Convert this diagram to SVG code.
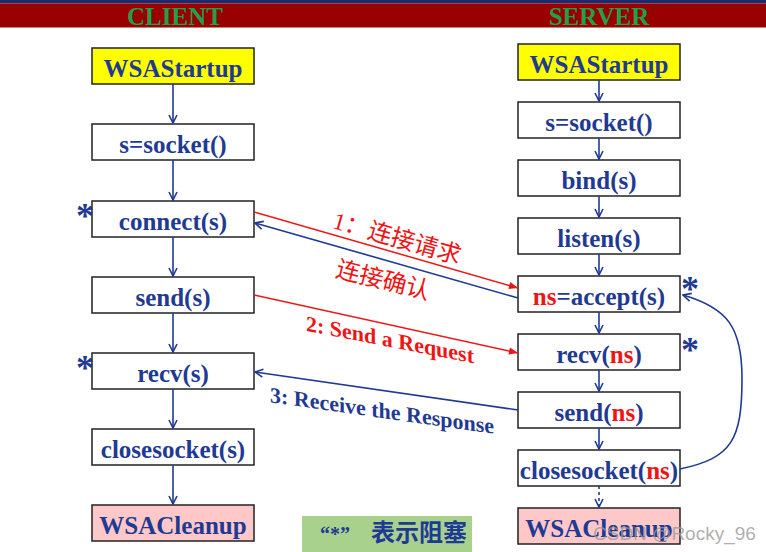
<svg xmlns="http://www.w3.org/2000/svg" width="766" height="552" viewBox="0 0 766 552">
<style>
.box{fill:#ffffff;stroke:#222222;stroke-width:1.5}
.start{fill:#ffff00;stroke:#222222;stroke-width:1.5}
.clean{fill:#ffc8c8;stroke:#222222;stroke-width:1.5}
.t{font-family:"Liberation Serif","Times New Roman",serif;font-weight:bold;font-size:25px;fill:#1f3a93;text-anchor:middle}
.r{fill:#f01414}
.hdr{font-family:"Liberation Serif","Times New Roman",serif;font-weight:bold;font-size:25px;fill:#20a04c;text-anchor:middle}
.ast{font-family:"Liberation Serif","Times New Roman",serif;font-weight:bold;font-size:36px;fill:#1f3a93;text-anchor:middle}
.lb{stroke:#1f3a93;stroke-width:1.6;fill:none}
.lr{stroke:#f01414;stroke-width:1.5;fill:none}
.cjk{font-family:"Liberation Serif","Noto Sans CJK SC",serif;font-size:24px;fill:#f01414;text-anchor:middle}
.lab{font-family:"Liberation Serif","Times New Roman",serif;font-weight:bold;font-style:normal;font-size:22px;text-anchor:middle}
</style>
<defs>
<marker id="ab" viewBox="0 0 10 10" refX="9" refY="5" markerWidth="10" markerHeight="10" markerUnits="userSpaceOnUse" orient="auto">
<path d="M1,1 L9,5 L1,9" fill="none" stroke="#1f3a93" stroke-width="1.6"/>
</marker>
<marker id="ar" viewBox="0 0 10 10" refX="10" refY="5" markerWidth="10" markerHeight="9" markerUnits="userSpaceOnUse" orient="auto">
<path d="M0,1 L10,5 L0,9 z" fill="#f01414"/>
</marker>
</defs>
<rect x="0" y="0" width="766" height="552" fill="#ffffff"/>
<rect x="0" y="0" width="766" height="3.5" fill="#1f2a6e"/>
<rect x="0" y="3.5" width="766" height="24" fill="#990000"/>
<text class="hdr" x="175" y="25">CLIENT</text>
<text class="hdr" x="599" y="25">SERVER</text>

<g id="c-startup"><rect class="start" x="92" y="48" width="162" height="36"/><text class="t" x="173" y="77">WSAStartup</text></g>
<g id="c-socket"><rect class="box" x="92" y="124" width="162" height="36"/><text class="t" x="173" y="153">s=socket()</text></g>
<g id="c-connect"><rect class="box" x="92" y="201" width="162" height="36"/><text class="t" x="173" y="230">connect(s)</text></g>
<g id="c-send"><rect class="box" x="92" y="277" width="162" height="36"/><text class="t" x="173" y="306">send(s)</text></g>
<g id="c-recv"><rect class="box" x="92" y="353" width="162" height="36"/><text class="t" x="173" y="382">recv(s)</text></g>
<g id="c-close"><rect class="box" x="92" y="429" width="162" height="36"/><text class="t" x="173" y="458">closesocket(s)</text></g>
<g id="c-cleanup"><rect class="clean" x="92" y="505" width="162" height="36"/><text class="t" x="173" y="534">WSACleanup</text></g>

<g id="s-startup"><rect class="start" x="518" y="44" width="162" height="36"/><text class="t" x="599" y="73">WSAStartup</text></g>
<g id="s-socket"><rect class="box" x="518" y="102" width="162" height="36"/><text class="t" x="599" y="131">s=socket()</text></g>
<g id="s-bind"><rect class="box" x="518" y="160" width="162" height="36"/><text class="t" x="599" y="189">bind(s)</text></g>
<g id="s-listen"><rect class="box" x="518" y="218" width="162" height="36"/><text class="t" x="599" y="247">listen(s)</text></g>
<g id="s-accept"><rect class="box" x="518" y="276" width="162" height="36"/><text class="t" x="599" y="305"><tspan class="r">ns</tspan>=accept(s)</text></g>
<g id="s-recv"><rect class="box" x="518" y="334" width="162" height="36"/><text class="t" x="599" y="363">recv(<tspan class="r">ns</tspan>)</text></g>
<g id="s-send"><rect class="box" x="518" y="392" width="162" height="36"/><text class="t" x="599" y="421">send(<tspan class="r">ns</tspan>)</text></g>
<g id="s-close"><rect class="box" x="518" y="450" width="162" height="36"/><text class="t" x="599" y="479">closesocket(<tspan class="r">ns</tspan>)</text></g>
<g id="s-cleanup"><rect class="clean" x="518" y="508" width="162" height="36"/><text class="t" x="599" y="537">WSACleanup</text></g>

<g id="asterisks">
<text class="ast" x="85" y="228">*</text>
<text class="ast" x="85" y="380">*</text>
<text class="ast" x="690" y="301">*</text>
<text class="ast" x="690" y="362">*</text>
</g>

<g id="connectors">
<line class="lb" x1="173" y1="84" x2="173" y2="123" marker-end="url(#ab)"/>
<line class="lb" x1="173" y1="160" x2="173" y2="200" marker-end="url(#ab)"/>
<line class="lb" x1="173" y1="237" x2="173" y2="276" marker-end="url(#ab)"/>
<line class="lb" x1="173" y1="313" x2="173" y2="352" marker-end="url(#ab)"/>
<line class="lb" x1="173" y1="389" x2="173" y2="428" marker-end="url(#ab)"/>
<line class="lb" x1="173" y1="465" x2="173" y2="504" marker-end="url(#ab)"/>
<line class="lb" x1="599" y1="80" x2="599" y2="101" marker-end="url(#ab)"/>
<line class="lb" x1="599" y1="138" x2="599" y2="159" marker-end="url(#ab)"/>
<line class="lb" x1="599" y1="196" x2="599" y2="217" marker-end="url(#ab)"/>
<line class="lb" x1="599" y1="254" x2="599" y2="275" marker-end="url(#ab)"/>
<line class="lb" x1="599" y1="312" x2="599" y2="333" marker-end="url(#ab)"/>
<line class="lb" x1="599" y1="370" x2="599" y2="391" marker-end="url(#ab)"/>
<line class="lb" x1="599" y1="428" x2="599" y2="449" marker-end="url(#ab)"/>
<line class="lb" x1="599" y1="486" x2="599" y2="507" stroke-dasharray="3,3" marker-end="url(#ab)"/>
<path class="lb" d="M680,469 C732,458 742,440 742,378 C742,328 728,308 683,295" marker-end="url(#ab)"/>
<line class="lr" x1="254" y1="212" x2="518" y2="288" marker-end="url(#ar)"/>
<line class="lb" x1="518" y1="298" x2="255" y2="223" marker-end="url(#ab)"/>
<line class="lr" x1="254" y1="295" x2="518" y2="353" marker-end="url(#ar)"/>
<line class="lb" x1="518" y1="410" x2="255" y2="372" marker-end="url(#ab)"/>
</g>

<g id="labels">
<text class="cjk" transform="translate(395,246) rotate(16)">1：连接请求</text>
<text class="cjk" transform="translate(381,288) rotate(14)">连接确认</text>
<text class="lab" fill="#f01414" transform="translate(390,347) skewY(11)">2: Send a Request</text>
<text class="lab" fill="#1f3a93" transform="translate(382,418) skewY(8)">3: Receive the Response</text>
</g>

<g id="legend">
<rect x="302" y="516" width="170" height="36" fill="#a9d18e"/>
<text x="320" y="541" font-family="Liberation Serif,serif" font-weight="bold" font-size="20" fill="#1f3a93">“*”</text>
<text x="371" y="541" font-family="Noto Sans CJK SC,sans-serif" font-weight="bold" font-size="24" fill="#1f3a93">表示阻塞</text>
</g>

<text x="593" y="540" font-family="Liberation Sans,Arial,sans-serif" font-size="19" fill="#9a9a9a" fill-opacity="0.8">CSDN @Rocky_96</text>
</svg>
